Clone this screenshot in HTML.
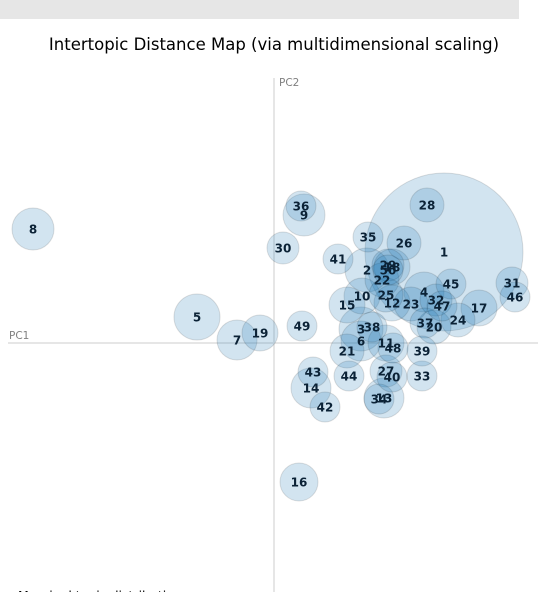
<!DOCTYPE html>
<html><head><meta charset="utf-8"><style>
html,body{margin:0;padding:0;background:#fff;width:545px;height:592px;overflow:hidden}
svg{display:block;font-family:"DejaVu Sans","Liberation Sans",sans-serif}
</style></head><body>
<svg id="chart" width="545" height="592" viewBox="0 0 545 592">
<rect x="0" y="0" width="519" height="19" fill="#e6e6e6"/>
<text x="274" y="50" font-size="16.5" text-anchor="middle" fill="#000">Intertopic Distance Map (via multidimensional scaling)</text>
<line x1="274" y1="78" x2="274" y2="592" stroke="#e6e6e6" stroke-width="2"/>
<line x1="8" y1="343" x2="538" y2="343" stroke="#e6e6e6" stroke-width="2"/>
<text x="9" y="339" font-size="10.5" fill="#808080">PC1</text>
<text x="279" y="86" font-size="10.5" fill="#808080">PC2</text>
<g id="circles"></g>
<g id="labels"></g>
<text x="18" y="600" font-size="12.5" fill="#000">Marginal topic distribution</text>
</svg>
<script>
const topics=[1,2,3,4,5,6,7,8,9,10,11,12,13,14,15,16,17,18,19,20,21,22,23,24,25,26,27,28,29,30,31,32,33,34,35,36,37,38,39,40,41,42,43,44,45,46,47,48,49,50];
const pc1=[1.70,0.93,0.87,1.50,-0.77,0.87,-0.37,-2.41,0.30,0.88,1.12,1.18,1.10,0.37,0.73,0.25,2.05,1.18,-0.14,1.60,0.73,1.08,1.37,1.84,1.12,1.30,1.12,1.53,1.14,0.09,2.38,1.62,1.48,1.05,0.94,0.27,1.51,0.98,1.48,1.18,0.64,0.51,0.39,0.75,1.77,2.41,1.68,1.19,0.28,1.14];
const pc2=[0.91,0.73,0.14,0.51,0.26,0.02,0.03,1.14,1.28,0.47,0.00,0.40,-0.55,-0.45,0.38,-1.39,0.35,0.76,0.10,0.16,-0.08,0.63,0.39,0.23,0.48,1.00,-0.28,1.38,0.78,0.95,0.60,0.43,-0.33,-0.56,1.06,1.37,0.20,0.16,-0.08,-0.34,0.84,-0.64,-0.29,-0.33,0.59,0.46,0.37,-0.05,0.17,0.73];
const radius=[0.79,0.22,0.22,0.20,0.23,0.20,0.20,0.21,0.21,0.18,0.18,0.18,0.20,0.20,0.18,0.19,0.18,0.18,0.18,0.17,0.17,0.17,0.17,0.17,0.17,0.17,0.16,0.17,0.16,0.16,0.16,0.16,0.15,0.15,0.15,0.15,0.15,0.15,0.15,0.15,0.15,0.15,0.15,0.15,0.15,0.15,0.15,0.15,0.15,0.15];
const X0=274,Y0=343,S=100;
function xs(v){return X0+v*S}
function ys(v){return Y0-v*S}
function rs(v){return v*S}
const NS="http://www.w3.org/2000/svg";
const cg=document.getElementById('circles'),lg=document.getElementById('labels');
topics.forEach((t,i)=>{
 const c=document.createElementNS(NS,'circle');
 c.setAttribute('cx',xs(pc1[i]));c.setAttribute('cy',ys(pc2[i]));c.setAttribute('r',rs(radius[i]));
 c.setAttribute('fill','#1f77b4');c.setAttribute('fill-opacity','0.2');
 c.setAttribute('stroke','#000');c.setAttribute('stroke-opacity','0.12');c.setAttribute('stroke-width','1');
 
 
 cg.appendChild(c);
 const l=document.createElementNS(NS,'text');
 l.setAttribute('x',xs(pc1[i]));l.setAttribute('y',ys(pc2[i])+4.5);
 l.setAttribute('text-anchor','middle');l.setAttribute('font-size','12');l.setAttribute('font-weight','bold');
 l.setAttribute('fill','#0b2236');
 l.textContent=t;
 
 
 lg.appendChild(l);
});
</script>
</body></html>
